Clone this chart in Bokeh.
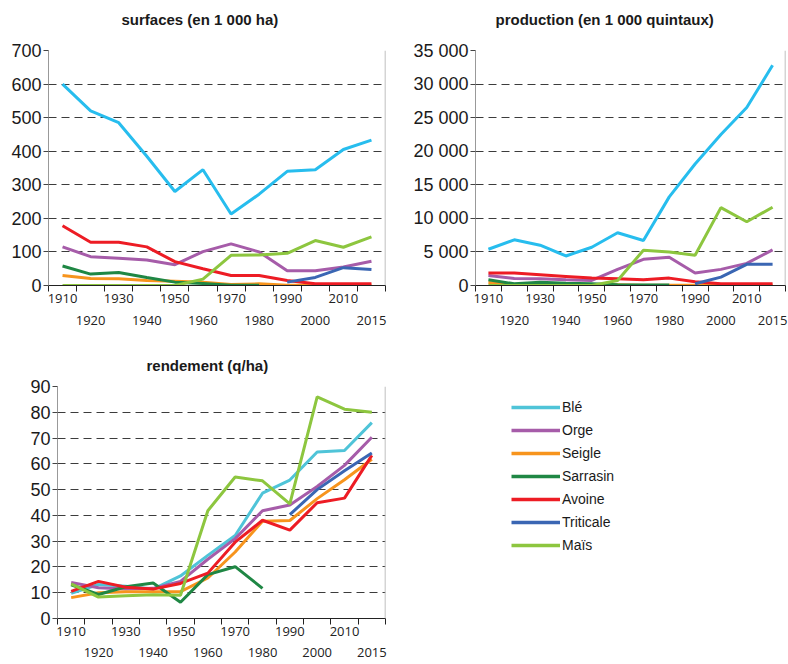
import numpy as np
from bokeh.plotting import figure
from bokeh.models import Range1d, FixedTicker, Span, Legend, LegendItem, Title
from bokeh.layouts import column, row
from bokeh.embed import file_html
from bokeh.resources import INLINE

nan = np.nan

# ---------------- data ----------------
years = ["1910", "1920", "1930", "1940", "1950", "1960", "1970", "1980",
         "1990", "2000", "2010", "2015"]
series_names = ["Blé", "Orge", "Seigle", "Sarrasin", "Avoine", "Triticale", "Maïs"]

# surfaces (en 1 000 ha)
surf_ble = [600, 520, 485, 385, 280, 345, 213, 272, 340, 345, 405, 433]
surf_orge = [115, 86, 81, 76, 62, 101, 124, 100, 44, 44, 55, 72]
surf_seigle = [30, 21, 20, 15, 13, 10, 3, 5, 1, 1, 1, 1]
surf_sarrasin = [58, 34, 39, 24, 10, 6, 1, 1, nan, nan, nan, nan]
surf_avoine = [178, 129, 129, 115, 71, 50, 30, 30, 15, 5, 5, 5]
surf_triticale = [nan, nan, nan, nan, nan, nan, nan, nan, 10, 24, 53, 48]
surf_mais = [0, 0, 0, 0, 0, 19, 90, 91, 96, 134, 114, 145]

# production (en 1 000 quintaux)
prod_ble = [5400, 6800, 6000, 4400, 5700, 7850, 6700, 13200, 18100, 22500, 26500, 32800]
prod_orge = [1500, 1050, 1000, 850, 750, 2400, 3900, 4200, 1850, 2400, 3300, 5300]
prod_seigle = [450, 150, 200, 150, 150, 100, 50, 50, 30, 20, 20, 20]
prod_sarrasin = [850, 250, 500, 350, 250, 100, 80, 80, nan, nan, nan, nan]
prod_avoine = [1850, 1850, 1600, 1350, 1100, 1000, 850, 1100, 550, 250, 250, 250]
prod_triticale = [nan, nan, nan, nan, nan, nan, nan, nan, 250, 1250, 3150, 3150]
prod_mais = [0, 0, 0, 0, 0, 750, 5250, 5000, 4500, 11600, 9500, 11650]

# rendement (q/ha)
rend_ble = [9.8, 13.2, 12.5, 11.4, 16.5, 24.5, 32.2, 48.6, 53.7, 64.6, 65.2, 76]
rend_orge = [14, 11.9, 11.4, 11.7, 14.4, 23, 31, 41.8, 44, 51.2, 59.4, 70.3]
rend_seigle = [8.1, 10, 10.4, 10.4, 10.4, 15.7, 25.8, 37.7, 38, 46.5, 53.8, 61.8]
rend_sarrasin = [13.1, 9.3, 12.3, 13.8, 6.3, 17, 20.1, 11.7, nan, nan, nan, nan]
rend_avoine = [10.5, 14.4, 12.1, 11.4, 13.6, 17.6, 29.6, 38.1, 34.3, 44.9, 46.7, 63.3]
rend_triticale = [nan, nan, nan, nan, nan, nan, nan, nan, 40.3, 50, 57.3, 64.2]
rend_mais = [13.4, 8.3, 8.8, 9.2, 9, 41.8, 54.9, 53.4, 44.5, 86, 81.2, 80]

surf_ticks = [0, 100, 200, 300, 400, 500, 600, 700]
surf_labels = ["0", "100", "200", "300", "400", "500", "600", "700"]
prod_ticks = [0, 5000, 10000, 15000, 20000, 25000, 30000, 35000]
prod_labels = ["0", "5 000", "10 000", "15 000", "20 000", "25 000", "30 000", "35 000"]
rend_ticks = [0, 10, 20, 30, 40, 50, 60, 70, 80, 90]
rend_labels = ["0", "10", "20", "30", "40", "50", "60", "70", "80", "90"]

colors_top = ["#27BDEE", "#A65CA9", "#F7941D", "#1F8744", "#ED1C24", "#3A66B3", "#8DC63F"]
colors_rend = ["#4FC4D8", "#A65CA9", "#F7941D", "#1F8744", "#ED1C24", "#3A66B3", "#8DC63F"]

x_idx = list(range(len(years)))


def make_panel(title, width, height, ticks, labels, ymax, data, colors, mb,
               title_gap, title_offset, label_lh):
    p = figure(width=width, height=height,
               x_range=Range1d(-0.5, len(years) - 0.5), y_range=Range1d(0, ymax),
               toolbar_location=None, output_backend="svg",
               min_border_left=mb[0], min_border_right=mb[1],
               min_border_top=mb[2], min_border_bottom=mb[3])
    p.title.text = title
    p.title.align = "left"
    p.title.offset = title_offset
    p.title.text_font = "Liberation Sans"
    p.title.text_font_style = "bold"
    p.title.text_font_size = "15px"
    p.title.text_color = "#1a1a1a"
    p.title.standoff = 4
    p.outline_line_color = None

    # x axis: category boundaries as minor ticks, staggered labels
    xa = p.below[0]
    xa.ticker = FixedTicker(ticks=x_idx, minor_ticks=[i - 0.5 for i in range(len(years) + 1)])
    xa.major_label_overrides = {i: (lab if i % 2 == 0 else "\n" + lab) for i, lab in enumerate(years)}
    xa.major_tick_out = 0
    xa.major_tick_in = 0
    xa.minor_tick_out = 6
    xa.minor_tick_in = 0
    xa.minor_tick_line_color = "#222222"
    xa.axis_line_color = "#222222"
    xa.major_label_text_font = "Open Sans"
    xa.major_label_text_font_size = "13px"
    xa.major_label_text_line_height = label_lh
    xa.major_label_text_color = "#222222"
    xa.major_label_standoff = -3

    ya = p.left[0]
    ya.ticker = FixedTicker(ticks=ticks)
    ya.major_label_overrides = {t: l for t, l in zip(ticks, labels)}
    ya.major_tick_out = 5
    ya.major_tick_in = 0
    ya.minor_tick_out = 0
    ya.minor_tick_in = 0
    ya.major_tick_line_color = "#444444"
    ya.axis_line_color = "#999999"
    ya.major_label_text_font = "Liberation Sans"
    ya.major_label_text_font_size = "18px"
    ya.major_label_text_color = "#1a1a1a"
    ya.major_label_standoff = 2

    p.xgrid.visible = False
    p.ygrid.ticker = FixedTicker(ticks=ticks[1:])
    p.ygrid.grid_line_color = "#3c3c3c"
    p.ygrid.grid_line_dash = "8 5"
    p.ygrid.grid_line_width = 1

    p.add_layout(Span(location=len(years) - 0.5, dimension="height",
                      line_color="#aaaaaa", line_width=1.5))

    for ys, c in zip(data, colors):
        p.line(x_idx, np.array(ys, dtype=float), line_color=c, line_width=3)

    # blank spacer between the title and the plot area
    p.add_layout(Title(text=" ", text_font_size="1px", standoff=title_gap), "above")
    return p


p1 = make_panel("surfaces (en 1 000 ha)", 395, 332, surf_ticks, surf_labels, 700,
                [surf_ble, surf_orge, surf_seigle, surf_sarrasin, surf_avoine, surf_triticale, surf_mais],
                colors_top, (48, 10, 50, 45), 18, 73, 1.27)
p2 = make_panel("production (en 1 000 quintaux)", 393, 332, prod_ticks, prod_labels, 35000,
                [prod_ble, prod_orge, prod_seigle, prod_sarrasin, prod_avoine, prod_triticale, prod_mais],
                colors_top, (80, 3, 50, 45), 18, 20, 1.27)
p3 = make_panel("rendement (q/ha)", 395, 332, rend_ticks, rend_labels, 90,
                [rend_ble, rend_orge, rend_seigle, rend_sarrasin, rend_avoine, rend_triticale, rend_mais],
                colors_rend, (57, 10, 54, 44), 8, 89, 1.2)

# legend panel (frame borders match the rendement panel so the row stays aligned)
p4 = figure(width=393, height=332, x_range=Range1d(0, 1), y_range=Range1d(0, 1),
            x_axis_location=None, y_axis_location=None,
            toolbar_location=None, output_backend="svg",
            min_border_left=105, min_border_top=54, min_border_right=0, min_border_bottom=44)
p4.grid.visible = False
p4.outline_line_color = None
items = []
for name, c in zip(series_names, colors_rend):
    r = p4.line(x=[nan], y=[nan], line_color=c, line_width=3.5)
    items.append(LegendItem(label=name, renderers=[r]))
legend = Legend(items=items, location="top_left", padding=0, margin=11,
                border_line_color=None, background_fill_alpha=0,
                glyph_width=49, glyph_height=20, label_height=20, spacing=3,
                label_standoff=2, label_text_font="Liberation Sans",
                label_text_font_size="14px", label_text_color="#1a1a1a")
p4.add_layout(legend)

layout = column(row(p1, p2), row(p3, p4))
open("out.html", "w").write(file_html(layout, INLINE))
